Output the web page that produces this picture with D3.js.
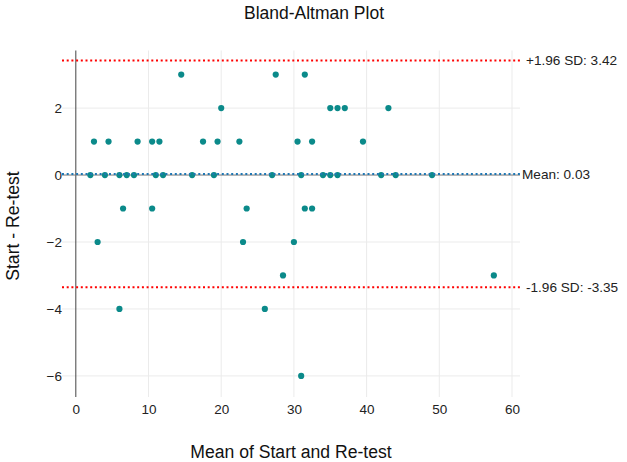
<!DOCTYPE html>
<html>
<head>
<meta charset="utf-8">
<script src="https://cdn.jsdelivr.net/npm/d3@7"></script>
<style>
  html, body { margin: 0; padding: 0; background: #fff; }
  svg { display: block; font-family: "Liberation Sans", Arial, Helvetica, sans-serif; }
</style>
</head>
<body>
<svg id="chart" width="627" height="462"></svg>
<script>
// Mean of Start and Re-test (x) and Start - Re-test (y)
const meanValues = [
  2, 4, 6, 7, 8, 11, 12, 16, 19, 27, 31, 34, 35, 36, 42, 44, 49,
  2.5, 4.5, 8.5, 10.5, 11.5, 17.5, 19.5, 22.5, 30.5, 32.5, 39.5,
  20, 35, 36, 37, 43,
  14.5, 27.5, 31.5,
  6.5, 10.5, 23.5, 31.5, 32.5,
  3, 23, 30,
  28.5, 57.5,
  6, 26,
  31
];
const diffValues = [
  0, 0, 0, 0, 0, 0, 0, 0, 0, 0, 0, 0, 0, 0, 0, 0, 0,
  1, 1, 1, 1, 1, 1, 1, 1, 1, 1, 1,
  2, 2, 2, 2, 2,
  3, 3, 3,
  -1, -1, -1, -1, -1,
  -2, -2, -2,
  -3, -3,
  -4, -4,
  -6
];
const meanDiff = 0.03;
const upperLoA = 3.42;
const lowerLoA = -3.35;
const xTicks = [0, 10, 20, 30, 40, 50, 60];
const yTicks = [-6, -4, -2, 0, 2];
const refLines = [
  { value: upperLoA, label: "+1.96 SD: 3.42", color: "#ff0000", kind: "loa" },
  { value: meanDiff, label: "Mean: 0.03", color: "#1f77b4", kind: "mean" },
  { value: lowerLoA, label: "-1.96 SD: -3.35", color: "#ff0000", kind: "loa" }
];

const svg = d3.select("#chart");
const pLeft = 62, pRight = 520, pTop = 50.5, pBottom = 397;

const x = d3.scaleLinear().domain([-1.9, 61.1]).range([pLeft, pRight]);
const y = d3.scaleLinear().domain([-6.63, 3.72]).range([pBottom, pTop]);

// grid
const grid = svg.append("g");
grid.selectAll("line.vx").data(xTicks.filter(d => d !== 0)).enter().append("line")
  .attr("x1", d => x(d)).attr("x2", d => x(d))
  .attr("y1", pTop).attr("y2", pBottom)
  .attr("stroke", "#ebebeb").attr("stroke-width", 1);
grid.selectAll("line.hy").data(yTicks.filter(d => d !== 0)).enter().append("line")
  .attr("y1", d => y(d)).attr("y2", d => y(d))
  .attr("x1", pLeft).attr("x2", pRight)
  .attr("stroke", "#ebebeb").attr("stroke-width", 1);

// zero lines
svg.append("line").attr("x1", x(0)).attr("x2", x(0)).attr("y1", pTop).attr("y2", pBottom)
  .attr("stroke", "#444").attr("stroke-width", 1);
svg.append("line").attr("x1", pLeft).attr("x2", pRight).attr("y1", y(0)).attr("y2", y(0))
  .attr("stroke", "#777").attr("stroke-width", 1);

// axes (labels only)
const xAxis = d3.axisBottom(x).tickValues(xTicks).tickSize(0).tickPadding(6);
const gx = svg.append("g").attr("transform", `translate(0,${pBottom})`).call(xAxis);
gx.select(".domain").remove();
gx.selectAll("text").attr("font-size", 13.5).attr("fill", "#222").attr("dy", "0.85em")
  .attr("font-family", "Liberation Sans, Arial, sans-serif");

const yAxis = d3.axisLeft(y).tickValues(yTicks).tickSize(0).tickPadding(0)
  .tickFormat(d => d < 0 ? "\u2212" + Math.abs(d) : String(d));
const gy = svg.append("g").attr("transform", `translate(${pLeft},0)`).call(yAxis);
gy.select(".domain").remove();
gy.selectAll("text").attr("font-size", 13.5).attr("fill", "#222")
  .attr("font-family", "Liberation Sans, Arial, sans-serif");

// points
svg.append("g").selectAll("circle").data(meanValues.map((m, i) => [m, diffValues[i]]))
  .enter().append("circle")
  .attr("cx", d => x(d[0])).attr("cy", d => y(d[1])).attr("r", 3.1)
  .attr("fill", "#0b8a8a");

// reference lines
const refs = svg.append("g");
refs.selectAll("line").data(refLines).enter().append("line")
  .attr("x1", pLeft).attr("x2", pRight)
  .attr("y1", d => y(d.value)).attr("y2", d => y(d.value))
  .attr("stroke", d => d.color).attr("stroke-width", 2)
  .attr("stroke-dasharray", "2,2.7");
refs.selectAll("text").data(refLines).enter().append("text")
  .attr("x", d => d.kind === "mean" ? pRight + 2 : pRight + 6)
  .attr("y", d => y(d.value)).attr("dy", "0.35em")
  .attr("font-size", 13.6).attr("fill", "#222")
  .text(d => d.label);

// titles
svg.append("text").attr("x", 314).attr("y", 19).attr("text-anchor", "middle")
  .attr("font-size", 17.5).attr("fill", "#111").text("Bland-Altman Plot");
svg.append("text").attr("x", 291).attr("y", 458).attr("text-anchor", "middle")
  .attr("font-size", 17.6).attr("fill", "#111").text("Mean of Start and Re-test");
svg.append("text").attr("transform", `translate(19,226) rotate(-90)`)
  .attr("text-anchor", "middle")
  .attr("font-size", 17.6).attr("fill", "#111").text("Start - Re-test");
</script>
</body>
</html>
